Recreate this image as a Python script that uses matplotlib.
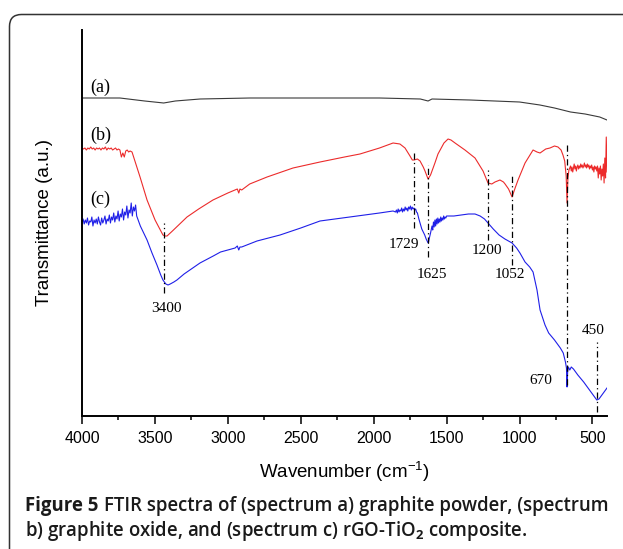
import numpy as np
import matplotlib
matplotlib.use("Agg")
import matplotlib.pyplot as plt
from matplotlib.patches import FancyBboxPatch
from matplotlib.transforms import IdentityTransform

plt.rcParams['mathtext.fontset'] = 'custom'
plt.rcParams['mathtext.rm'] = 'Liberation Sans'
plt.rcParams['mathtext.bf'] = 'Open Sans:bold'

# ---- spectrum (a): graphite powder
a_wn = [4000, 3740, 3570, 3440, 3360, 3190, 2850, 2500, 1960, 1680, 1627, 1600,
        1340, 1000, 860, 760, 650, 550, 450, 400]
a_y = [318, 318, 315, 313, 315, 317, 318, 318, 318, 317, 315, 317,
       316, 314, 311, 308, 304, 302, 299, 296]

# ---- spectrum (b): graphite oxide
b_noise_start = [268, 267, 268, 266, 268, 267, 269, 267, 268, 266, 268, 267, 268,
                 266, 268, 267, 269, 266, 268, 267, 268, 266, 267, 268, 266, 267,
                 266, 259, 263, 259, 265, 266, 264, 265]
b_wn = [3657, 3602, 3554, 3499, 3445, 3430, 3417, 3380, 3330, 3280, 3200, 3102,
        3000, 2935, 2925, 2917, 2905, 2850, 2731, 2553, 2368, 2200, 2094, 1960,
        1867, 1820, 1785, 1751, 1735, 1723, 1700, 1682, 1660, 1648, 1627, 1610,
        1600, 1580, 1559, 1518, 1490, 1470, 1442, 1374, 1305, 1250, 1216, 1190,
        1168, 1134, 1110, 1099, 1075, 1051, 1030, 1010, 962, 907, 880, 859,
        820, 791, 760, 736, 715, 702, 690, 680, 674, 668, 661]
b_y = [264, 239, 216, 196, 181, 180, 180, 185, 192, 199, 207, 216,
       223, 227, 223, 227, 226, 232, 239, 248, 254, 259, 262, 268,
       273, 272, 268, 260, 256, 256, 257, 255, 249, 245, 237, 241,
       245, 253, 262, 273, 277, 276, 273, 266, 258, 245, 233, 232,
       234, 236, 234, 232, 227, 219, 228, 236, 253, 266, 264, 263,
       267, 268, 270, 269, 266, 261, 255, 240, 213, 238, 246]
b_noise_end = [250, 245, 249, 244, 248, 252, 247, 250, 245, 249, 251, 247, 250,
               248, 252, 249, 251, 248, 250, 253, 249, 251, 248, 252, 249, 251,
               247, 250, 248, 251, 246, 249, 244, 250, 247, 249, 245, 250, 238,
               248, 242, 250, 236, 247, 240, 252, 233, 258, 238, 279, 244]

# ---- spectrum (c): rGO-TiO2 composite
c_noise_start = [194, 197, 192, 196, 193, 198, 191, 195, 194, 199, 190, 196, 193,
                 197, 192, 199, 194, 191, 198, 193, 196, 200, 192, 197, 195, 201,
                 193, 199, 196, 203, 194, 200, 197, 205, 195, 202, 199, 207, 196,
                 204, 201, 210, 198, 206, 203, 213, 200, 209, 205, 211]
c_wn_1 = [3625, 3600, 3554, 3520, 3486, 3460, 3445, 3425, 3410, 3395, 3370, 3349,
          3300, 3260, 3191, 3100, 3050, 2950, 2935, 2925, 2917, 2905, 2800, 2642,
          2500, 2368, 2162, 1960, 1867]
c_y_1 = [200, 190, 176, 163, 151, 141, 136, 132, 131, 132, 134, 136,
         142, 146, 153, 160, 164, 168, 170, 166, 169, 169, 175, 181,
         188, 195, 199, 203, 205]
c_fuzz_1 = [204, 206, 203, 207, 204, 206, 205, 208, 204, 207, 205, 209, 206,
            208, 205, 209, 207, 210, 206, 209, 207, 208, 206, 207, 204]
c_wn_2 = [1700, 1690, 1680, 1670, 1660, 1650, 1640, 1630, 1625, 1618, 1610, 1600]
c_y_2 = [203, 197, 192, 187, 184, 181, 177, 174, 173, 178, 183, 190]
c_fuzz_2 = [186, 194, 189, 196, 190, 197, 192, 198, 193, 197, 194, 199, 195,
            198, 196, 200, 197, 199, 198, 200]
c_wn_3 = [1450, 1400, 1350, 1305, 1270, 1240, 1216, 1180, 1140, 1100, 1075, 1051,
          1020, 997, 962, 930, 907, 880, 859, 825, 800, 760, 720, 700,
          685, 678, 674, 670, 665, 655, 645, 630, 600, 560, 520, 490,
          470, 455, 430, 400]
c_y_3 = [200, 201, 202, 202, 200, 197, 193, 187, 181, 177, 175, 173,
         168, 163, 154, 149, 144, 126, 106, 91, 83, 76, 68, 63,
         54, 48, 29, 44, 49, 46, 49, 47, 41, 34, 26, 20,
         16, 17, 22, 28]

# ---- marked bands
peak_wn = [3435, 1723, 1627, 1216, 1051, 674, 470]
peak_top = [193, 266, 251, 246, 241, 273, 74]
peak_bot = [123, 188, 159, 176, 151, 31, 4]
peak_text = ['3400', '1729', '1625', '1200', '1052', '670', '450']
text_wn = [3424, 1792, 1600, 1223, 1065, 853, 496]
text_y = [107, 171, 142, 165, 141, 36, 86]

curve_labels = ['(a)', '(b)', '(c)']
curve_label_y = [329, 281, 217]

# assemble spectra
a_x = np.array(a_wn)
b_x = np.concatenate([np.arange(4000, 3665, -10), b_wn, np.arange(650, 399, -5)])
b_v = np.concatenate([b_noise_start, b_y, b_noise_end])
c_x = np.concatenate([np.arange(4000, 3630, -7.5), c_wn_1, np.arange(1850, 1700, -6),
                      c_wn_2, np.arange(1595, 1495, -5), c_wn_3])
c_v = np.concatenate([c_noise_start, c_y_1, c_fuzz_1, c_y_2, c_fuzz_2, c_y_3])

fig = plt.figure(figsize=(6.23, 5.49), dpi=100)
ax = fig.add_axes([82 / 623, 133 / 549, 525 / 623, 386 / 549])

ax.plot(a_x, a_y, color='#3a3a3a', lw=0.8)
ax.plot(b_x, b_v, color='#ec2b2b', lw=0.8)
ax.plot(c_x, c_v, color='#1f1fe8', lw=0.8)

for wn, y0, y1 in zip(peak_wn, peak_bot, peak_top):
    ax.plot([wn, wn], [y0, y1], color='black', lw=0.9, ls=(0, (5, 2.5, 1, 2.5)))
for t, x, y in zip(peak_text, text_wn, text_y):
    ax.text(x, y, t, ha='center', va='center', fontsize=11, family='Liberation Serif')
for t, y in zip(curve_labels, curve_label_y):
    ax.text(3945, y, t, ha='left', va='center', fontsize=13, family='Liberation Serif')

ax.set_xlim(4000, 400)
ax.set_ylim(0, 386)
ax.set_xticks([4000, 3500, 3000, 2500, 2000, 1500, 1000, 500])
ax.set_xticks(np.arange(3750, 400, -500), minor=True)
ax.set_yticks([])
ax.spines['top'].set_visible(False)
ax.spines['right'].set_visible(False)
ax.spines['left'].set_linewidth(1.4)
ax.spines['bottom'].set_linewidth(1.4)
ax.tick_params(axis='x', which='major', length=6, width=1.1, pad=5, labelsize=11.5)
ax.tick_params(axis='x', which='minor', length=3, width=1.1)
for lab in ax.get_xticklabels():
    lab.set_family('Liberation Sans')
ax.set_xlabel('Wavenumber (cm$^{-1}$)', fontsize=13.5, family='Liberation Sans', labelpad=9)
ax.set_ylabel('Transmittance (a.u.)', fontsize=13.5, family='Liberation Sans', labelpad=21)

# frame and caption
frame = FancyBboxPatch((9.5, -40), 700, 549 - 14 + 40 - 0.5,
                       boxstyle='round,pad=0,rounding_size=12',
                       transform=IdentityTransform(), facecolor='none',
                       edgecolor='#333333', lw=1.1)
fig.patches.append(frame)

cap = fig.add_axes([0, 0, 1, 1])
cap.axis('off')
cap.set_zorder(-1)
t1 = cap.text(25 / 623, 38 / 549, 'Figure 5', fontsize=13.4, family='Open Sans',
              weight='bold', va='baseline', color='#1a1a1a')
cap.annotate('FTIR spectra of (spectrum a) graphite powder, (spectrum',
             xy=(1, 0), xycoords=t1, xytext=(4, 0), textcoords='offset points',
             fontsize=13.4, family='Open Sans', weight='semibold', va='bottom',
             color='#1a1a1a')
cap.text(25 / 623, 13 / 549, 'b) graphite oxide, and (spectrum c) rGO-TiO$_\\mathbf{2}$ composite.',
         fontsize=13.4, family='Open Sans', weight='semibold', va='baseline',
         color='#1a1a1a')

fig.savefig('out.png', dpi=100)
